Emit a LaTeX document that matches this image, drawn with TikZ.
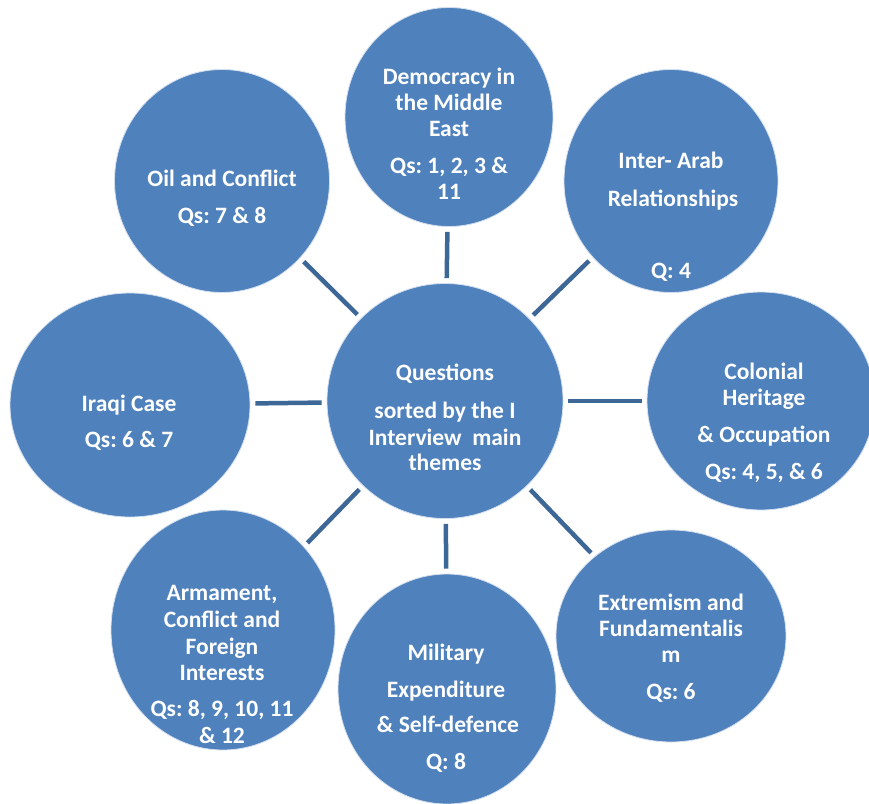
\documentclass[tikz,border=0pt]{standalone}
\usepackage{fontspec}
\setmainfont{Carlito}
\usetikzlibrary{shapes.geometric}
\definecolor{bubble}{HTML}{4F81BD}
\definecolor{spoke}{HTML}{3D6796}
\tikzset{
  bub/.style={ellipse, fill=bubble, draw=white!75!bubble, line width=0.8pt, inner sep=0pt},
  lbl/.style={text=white, font=\fontsize{23.5}{28}\selectfont\bfseries\frenchspacing, anchor=base, inner sep=0pt},
  conn/.style={draw=spoke, line width=4.5pt, shorten <=5pt, shorten >=5pt}
}
\begin{document}
\begin{tikzpicture}[x=1pt,y=-1pt]
\useasboundingbox (0,0) rectangle (869,803);
\clip (0,0) rectangle (869,803);
% circles
\node[bub, minimum width=236pt, minimum height=235pt] (c) at (445,401) {};
\node[bub, minimum width=208pt, minimum height=219pt] (dem) at (449,117) {};
\node[bub, minimum width=215pt, minimum height=223pt] (oil) at (222,181) {};
\node[bub, minimum width=214pt, minimum height=223pt] (arab) at (671,181) {};
\node[bub, minimum width=240pt, minimum height=224pt] (iraq) at (130,405) {};
\node[bub, minimum width=228pt, minimum height=218pt] (col) at (761,401) {};
\node[bub, minimum width=224pt, minimum height=240pt] (arm) at (223,630) {};
\node[bub, minimum width=218pt, minimum height=230pt] (mil) at (447,689) {};
\node[bub, minimum width=230pt, minimum height=212pt] (ext) at (671,636) {};
% connectors
\draw[conn] (c) -- (dem);
\draw[conn] (c) -- (oil);
\draw[conn] (c) -- (arab);
\draw[conn] (c) -- (iraq);
\draw[conn] (c) -- (col);
\draw[conn] (c) -- (arm);
\draw[conn] (c) -- (mil);
\draw[conn] (c) -- (ext);
% texts: centre
\node[lbl] (c1) at (445,380) {Questions};
\node[lbl] (c2) at (445,418) {sorted by the I};
\node[lbl] (c3) at (445,445) {Interview\ \ main};
\node[lbl] (c4) at (445,470) {themes};
% democracy
\node[lbl] (d1) at (449,84) {Democracy in};
\node[lbl] (d2) at (449,110) {the Middle};
\node[lbl] (d3) at (449,136) {East};
\node[lbl] (d4) at (449,173) {Qs: 1, 2, 3 \&};
\node[lbl] (d5) at (449,199) {11};
% oil
\node[lbl] (o1) at (222,186) {Oil and Conflict};
\node[lbl] (o2) at (222,223) {Qs: 7 \& 8};
% inter-arab
\node[lbl] (a1) at (671,168) {Inter- Arab};
\node[lbl] (a2) at (673,206) {Relationships};
\node[lbl] (a3) at (671,278) {Q: 4};
% iraqi
\node[lbl] (i1) at (129,411) {Iraqi Case};
\node[lbl] (i2) at (129,447) {Qs: 6 \& 7};
% colonial
\node[lbl] (k1) at (764,379) {Colonial};
\node[lbl] (k2) at (764,405) {Heritage};
\node[lbl] (k3) at (764,442) {\& Occupation};
\node[lbl] (k4) at (764,479) {Qs: 4, 5, \& 6};
% armament
\node[lbl] (r1) at (222,600) {Armament,};
\node[lbl] (r2) at (222,627) {Conflict and};
\node[lbl] (r3) at (222,654) {Foreign};
\node[lbl] (r4) at (222,680) {Interests};
\node[lbl] (r5) at (222,716) {Qs: 8, 9, 10, 11};
\node[lbl] (r6) at (222,743) {\& 12};
% military
\node[lbl] (m1) at (446,660) {Military};
\node[lbl] (m2) at (446,697) {Expenditure};
\node[lbl] (m3) at (448,732) {\& Self-defence};
\node[lbl] (m4) at (446,769) {Q: 8};
% extremism
\node[lbl] (e1) at (671,610) {Extremism and};
\node[lbl] (e2) at (671,636) {Fundamentalis};
\node[lbl] (e3) at (671,662) {m};
\node[lbl] (e4) at (671,699) {Qs: 6};
\end{tikzpicture}
\end{document}
